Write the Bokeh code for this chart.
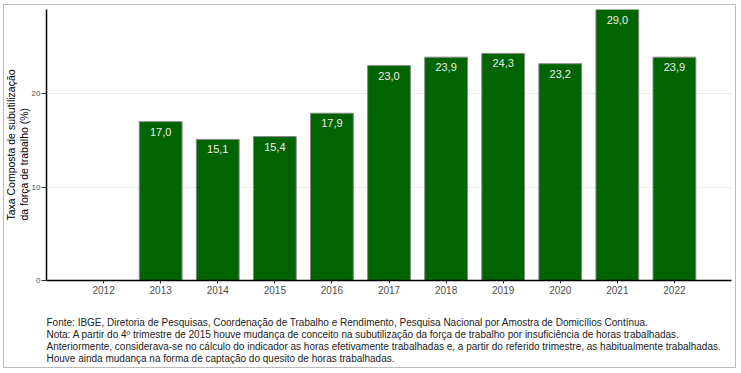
from bokeh.plotting import figure
from bokeh.models import ColumnDataSource, Range1d, FixedTicker, Title
from bokeh.core.properties import value
from bokeh.embed import file_html
from bokeh.resources import INLINE

years = [2012, 2013, 2014, 2015, 2016, 2017, 2018, 2019, 2020, 2021, 2022]
rates = [None, 17.0, 15.1, 15.4, 17.9, 23.0, 23.9, 24.3, 23.2, 29.0, 23.9]
y_ticks = [0, 10, 20]
y_label = "Taxa Composta de subutilização\nda força de trabalho (%)"
footer_lines = [
    "Fonte: IBGE, Diretoria de Pesquisas, Coordenação de Trabalho e Rendimento, Pesquisa Nacional por Amostra de Domicílios Contínua.",
    "Nota: A partir do 4º trimestre de 2015 houve mudança de conceito na subutilização da força de trabalho por insuficiência de horas trabalhadas.",
    "Anteriormente, considerava-se no cálculo do indicador as horas efetivamente trabalhadas e, a partir do referido trimestre, as habitualmente trabalhadas.",
    "Houve ainda mudança na forma de captação do quesito de horas trabalhadas.",
]

FONT = "Liberation Sans"

bx = [y for y, v in zip(years, rates) if v is not None]
bv = [v for v in rates if v is not None]
src = ColumnDataSource(dict(x=bx, top=bv, lab=[f"{v:.1f}".replace(".", ",") for v in bv]))

W, H = 733, 364
p = figure(width=W, height=H, output_backend="svg", toolbar_location=None,
           x_range=Range1d(2011.0, 2023.0), y_range=Range1d(0, max(bv)),
           min_border_left=42, min_border_right=6, min_border_top=4, min_border_bottom=89)
p.styles = {"position": "absolute", "left": "3px", "top": "4px", "border": "1px solid #bbbbbb"}
p.outline_line_color = None
p.background_fill_color = "white"

p.vbar(x="x", top="top", width=0.75, source=src, fill_color="#006400", line_color="#8a8a8a", line_width=1)
p.text(x="x", y="top", text="lab", source=src, text_align="center", text_baseline="middle",
       y_offset=10, text_color="#eeeeee", text_font=value(FONT), text_font_size="11px")

p.xgrid.grid_line_color = None
p.ygrid.grid_line_color = "#ebebeb"
p.ygrid.ticker = FixedTicker(ticks=y_ticks)

xa = p.xaxis[0]
xa.ticker = FixedTicker(ticks=years)
xa.axis_line_color = "black"
xa.axis_line_width = 1.5
xa.major_tick_out = 3
xa.major_tick_in = 0
xa.major_tick_line_color = "#333333"
xa.minor_tick_line_color = None
xa.major_label_text_font = FONT
xa.major_label_text_font_size = "10px"
xa.major_label_text_color = "#4d4d4d"
xa.major_label_standoff = 2

ya = p.yaxis[0]
ya.ticker = FixedTicker(ticks=y_ticks)
ya.axis_line_color = "black"
ya.axis_line_width = 1.5
ya.major_tick_out = 5
ya.major_tick_in = 0
ya.major_tick_line_color = "#333333"
ya.minor_tick_line_color = None
ya.major_label_text_font = FONT
ya.major_label_text_font_size = "8px"
ya.major_label_text_color = "#4d4d4d"
ya.major_label_standoff = 1

ytitle = Title(text=y_label, align="center", text_font=FONT, text_font_size="10.5px",
               text_font_style="normal", text_color="black", text_line_height=1.1, standoff=-4)
p.add_layout(ytitle, "left")

spacer = Title(text=" ", text_font=FONT, text_font_size="10px", text_color="white", standoff=6)
p.add_layout(spacer, "below")

footer = Title(text="\n".join(footer_lines), align="left", text_font=FONT, text_font_size="10px",
               text_font_style="normal", text_color="#222222", text_line_height=1.1, standoff=0)
p.add_layout(footer, "below")

open("out.html", "w").write(file_html(p, INLINE))
